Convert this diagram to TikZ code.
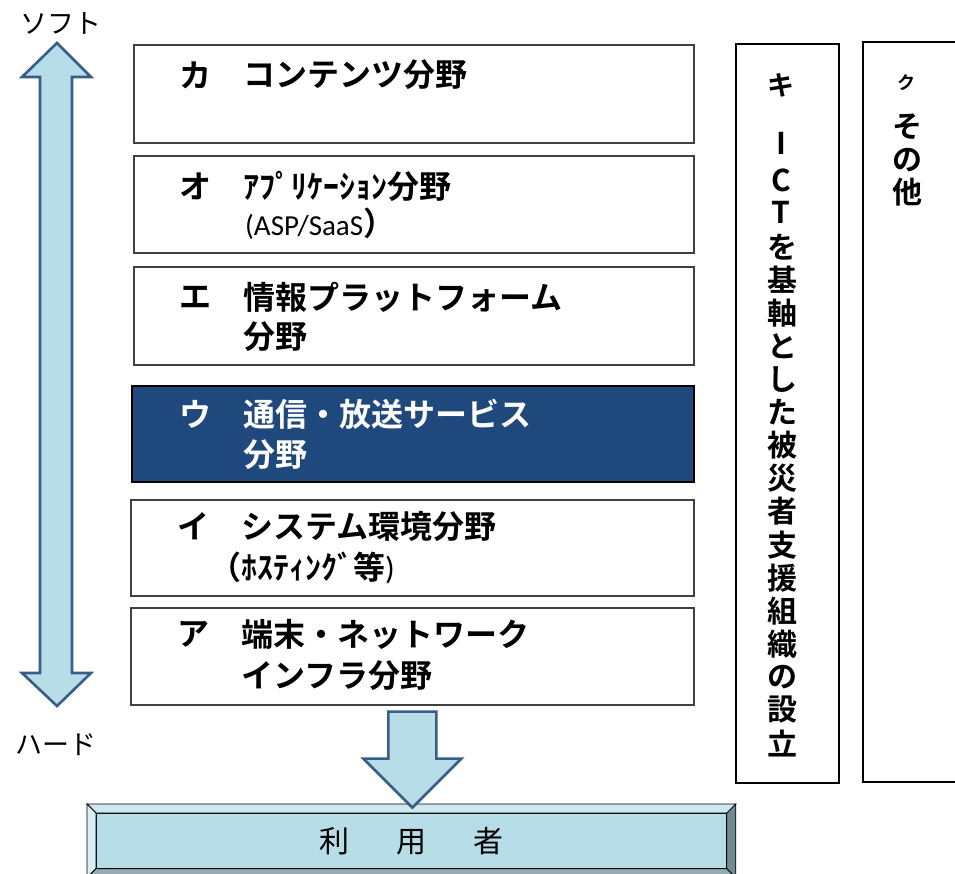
\documentclass[tikz,border=0pt]{standalone}
\usepackage{fontspec}
\newfontfamily\gothic[BoldFont={Noto Sans CJK JP Bold}]{Noto Sans CJK JP}
\newfontfamily\latinsans{Carlito}
\definecolor{FieldNavy}  {RGB}{31,73,125}
\definecolor{ArrowFill}  {RGB}{183,221,232}
\definecolor{ArrowEdge}  {RGB}{56,93,138}
\definecolor{BoxEdge}    {RGB}{64,64,64}
\definecolor{BevelTop}   {RGB}{207,232,239}
\definecolor{BevelLeft}  {RGB}{217,238,243}
\definecolor{BevelRight} {RGB}{111,138,144}
\definecolor{BevelBottom}{RGB}{146,173,180}
\usetikzlibrary{calc}

\tikzset{
  fieldbox/.style={draw=BoxEdge,line width=1.6pt,fill=white,
                   inner sep=0pt,anchor=north west},
  fieldtxt/.style={anchor=west,inner sep=0pt,
                   font=\gothic\bfseries\fontsize{32}{36}\selectfont},
  vchar/.style={inner sep=0pt,
                font=\gothic\bfseries\fontsize{30}{33}\selectfont},
  scaletxt/.style={inner sep=0pt,font=\gothic\fontsize{27}{29}\selectfont},
  blockarrow/.style={draw=ArrowEdge,line width=2.6pt,fill=ArrowFill},
  bevel/.style={draw=black,line width=0.8pt},
}

\begin{document}
\begin{tikzpicture}[x=1pt,y=-1pt]
  \useasboundingbox (0,0) rectangle (955,874);
  \clip (0,0) rectangle (955,874);
  %% Soft / hard scale
  \node[scaletxt] (soft) at (61,23){ソフト};
  \node[scaletxt] (hard) at (56,745){ハード};
  \draw[blockarrow](57,43)--(91,77)--(72,77)--(72,673)--(91,673)
       --(57,706)--(22,673)--(40,673)--(40,77)--(22,77)--cycle;
  %% Field boxes, top to bottom
  \node[fieldbox,minimum width=560pt,minimum height=98pt]
       (boxKa) at (133,44){};
  \node[fieldbox,minimum width=560pt,minimum height=97pt]
       (boxO) at (133,155){};
  \node[fieldbox,minimum width=560pt,minimum height=98pt]
       (boxE) at (133,266){};
  \node[fieldbox,draw=black,fill=FieldNavy,minimum width=562pt,
        minimum height=96pt] (boxU) at (131,385){};
  \node[fieldbox,minimum width=563pt,minimum height=96pt]
       (boxI) at (130,499){};
  \node[fieldbox,minimum width=563pt,minimum height=97pt]
       (boxA) at (130,607){};
  %% Field texts
  \node[fieldtxt] (lblKa) at (179,75){カ};
  \node[fieldtxt] (txtKa) at (243,75){コンテンツ分野};
  \node[fieldtxt] (lblO) at (179,186){オ};
  \node[fieldtxt] (txtO) at (243,186){ｱﾌﾟﾘｹｰｼｮﾝ分野};
  \node[fieldtxt] (subO) at (245,224)
       {{\latinsans\mdseries\fontsize{29}{32}\selectfont (ASP/SaaS}）};
  \node[fieldtxt] (lblE) at (179,297){エ};
  \node[fieldtxt] (txtE) at (243,297){情報プラットフォーム};
  \node[fieldtxt] (subE) at (243,337){分野};
  \node[fieldtxt,text=white] (lblU) at (179,414){ウ};
  \node[fieldtxt,text=white] (txtU) at (243,414){通信・放送サービス};
  \node[fieldtxt,text=white] (subU) at (243,455){分野};
  \node[fieldtxt] (lblI) at (177,526){イ};
  \node[fieldtxt] (txtI) at (241,526){システム環境分野};
  \node[fieldtxt] (subI) at (209,568)
       {（ﾎｽﾃｨﾝｸﾞ等{\latinsans\mdseries )}};
  \node[fieldtxt] (lblA) at (177,634){ア};
  \node[fieldtxt] (txtA) at (241,634){端末・ネットワーク};
  \node[fieldtxt] (subA) at (241,676){インフラ分野};
  %% Vertical boxes on the right
  \node[fieldbox,draw=black,minimum width=103pt,minimum height=739pt]
       (boxKi) at (735,43){};
  \node[fieldbox,draw=black,minimum width=110pt,minimum height=740pt]
       (boxKu) at (862,41){};
  \node[vchar,font=\gothic\bfseries\fontsize{27}{30}\selectfont]
       (kiLbl) at (781,85){キ};
  \node[vchar] (kiI) at (781,143){I};
  \node[vchar] (kiC) at (781,180){C};
  \node[vchar] (kiT) at (781,212){T};
  \foreach \ch [count=\i from 0] in
      {を,基,軸,と,し,た,被,災,者,支,援,組,織,の,設,立}
    \node[vchar] (kiChar\i) at (782,{247+33.07*\i}){\ch};
  \node[vchar,font=\gothic\bfseries\fontsize{18}{20}\selectfont]
       (kuLbl) at (906,83){ク};
  \node[vchar] (kuSo) at (907,127){そ};
  \node[vchar] (kuNo) at (907,160){の};
  \node[vchar] (kuTa) at (907,192){他};
  %% Users box with bevelled frame
  \node[draw=black,line width=0.8pt,fill=ArrowFill,inner sep=0pt,
        anchor=north west,minimum width=630pt,minimum height=55pt,
        font=\gothic\fontsize{30}{32}\selectfont]
       (userBox) at (96,813){利\hspace{47pt}用\hspace{47pt}者};
  \coordinate (outNW) at ($(userBox.north west)+(-9,-9)$);
  \coordinate (outNE) at ($(userBox.north east)+(9,-9)$);
  \coordinate (outSW) at ($(userBox.south west)+(-9,9)$);
  \coordinate (outSE) at ($(userBox.south east)+(9,9)$);
  \filldraw[bevel,fill=BevelTop](outNW)--(outNE)
       --(userBox.north east)--(userBox.north west)--cycle;
  \filldraw[bevel,fill=BevelLeft](outNW)--(userBox.north west)
       --(userBox.south west)--(outSW)--cycle;
  \filldraw[bevel,fill=BevelRight](outNE)--(outSE)
       --(userBox.south east)--(userBox.north east)--cycle;
  \filldraw[bevel,fill=BevelBottom](outSW)--(userBox.south west)
       --(userBox.south east)--(outSE)--cycle;
  %% Block arrow from the fields down to the users
  \draw[blockarrow]($(boxA.south)+(-24,6)$)--++(48,0)--++(0,47)
       --++(25,0)--++(-49,49)--++(-49,-49)--++(25,0)--cycle;
\end{tikzpicture}
\end{document}
